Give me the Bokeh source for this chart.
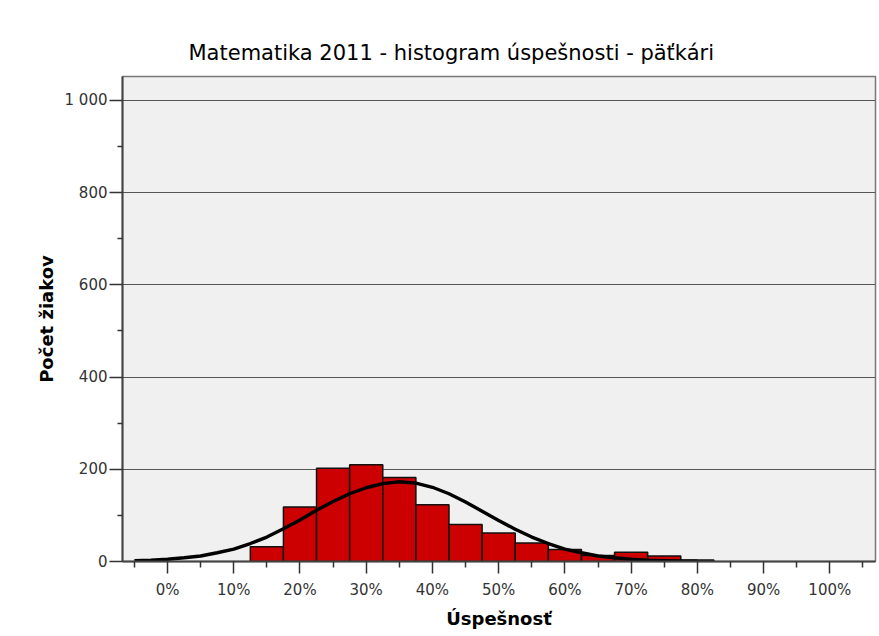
from bokeh.plotting import figure
from bokeh.models import FixedTicker, ColumnDataSource
from bokeh.embed import file_html
from bokeh.resources import INLINE

# ---- data ----
bin_centers = [15, 20, 25, 30, 35, 40, 45, 50, 55, 60, 65, 70, 75, 80]   # % success
bin_counts = [32, 118, 202, 210, 182, 123, 80, 62, 40, 26, 13, 20, 12, 3]
bin_width = 5

curve_x = [-5, -2.5, 0, 2.5, 5, 7.5, 10, 12.5, 15, 17.5, 20, 22.5, 25, 27.5, 30, 32.5,
           35, 37.5, 40, 42.5, 45, 47.5, 50, 52.5, 55, 57.5, 60, 62.5, 65, 67.5, 70,
           72.5, 75, 77.5, 80]
curve_y = [2, 3, 5, 8, 12, 19, 27, 39, 53, 71, 90, 111, 130, 147, 160, 169,
           173, 170, 161, 147, 129, 109, 89, 70, 53, 39, 27, 19, 12, 8, 5,
           3, 2, 1, 0.5]

x_ticks = [0, 10, 20, 30, 40, 50, 60, 70, 80, 90, 100]
x_tick_labels = ["0%", "10%", "20%", "30%", "40%", "50%", "60%", "70%", "80%", "90%", "100%"]
x_minor = [-5, 5, 15, 25, 35, 45, 55, 65, 75, 85, 95, 105]
y_ticks = [0, 200, 400, 600, 800, 1000]
y_tick_labels = ["0", "200", "400", "600", "800", "1 000"]
y_minor = [100, 300, 500, 700, 900]

title_text = "Matematika 2011 - histogram úspešnosti - päťkári"
x_title = "Úspešnosť"
y_title = "Počet žiakov"

W, H = 879, 636
p = figure(width=W, height=H, output_backend="svg", toolbar_location=None,
           title=title_text,
           x_range=(-6.8, 106.9), y_range=(0, 1052),
           min_border_left=122, min_border_right=4, min_border_top=76, min_border_bottom=75)

p.title.align = "left"
p.title.offset = 66
p.title.text_font = "DejaVu Sans"
p.title.text_font_size = "21px"
p.title.text_font_style = "normal"
p.title.text_color = "black"
p.title.standoff = 24

p.background_fill_color = "#f0f0f0"
p.border_fill_color = "white"
p.outline_line_color = "#777777"
p.outline_line_width = 1.5

src = ColumnDataSource(dict(x=bin_centers, top=bin_counts))
p.vbar(x="x", top="top", bottom=0, width=bin_width, source=src,
       fill_color="#cc0000", line_color="#111111", line_width=1.5)
p.line(curve_x, curve_y, line_color="black", line_width=3.4)

# axes
p.xaxis.ticker = FixedTicker(ticks=x_ticks, minor_ticks=x_minor)
p.xaxis.major_label_overrides = {t: l for t, l in zip(x_ticks, x_tick_labels)}
p.yaxis.ticker = FixedTicker(ticks=y_ticks, minor_ticks=y_minor)
p.yaxis.major_label_overrides = {t: l for t, l in zip(y_ticks, y_tick_labels)}

for ax in (p.xaxis[0], p.yaxis[0]):
    ax.axis_line_color = "#444444"
    ax.axis_line_width = 2
    ax.major_tick_line_color = "#333333"
    ax.major_tick_line_width = 1.5
    ax.minor_tick_line_color = "#333333"
    ax.minor_tick_line_width = 1.5
    ax.major_tick_in = 0
    ax.minor_tick_in = 0
    ax.major_label_text_font = "DejaVu Sans"
    ax.major_label_text_font_size = "15px"
    ax.major_label_text_color = "#333333"
    ax.axis_label_text_font = "DejaVu Sans"
    ax.axis_label_text_font_style = "bold"
    ax.axis_label_text_color = "black"

p.xaxis.axis_label = x_title
p.xaxis.axis_label_text_font_size = "18px"
p.xaxis.axis_label_standoff = 6
p.yaxis.axis_label = y_title
p.yaxis.axis_label_text_font_size = "18px"
p.yaxis.axis_label_standoff = 5

p.yaxis.major_tick_out = 13
p.yaxis.minor_tick_out = 5
p.yaxis.major_label_standoff = 2
p.xaxis.major_tick_out = 12
p.xaxis.minor_tick_out = 6
p.xaxis.major_label_standoff = 7

p.xgrid.grid_line_color = None
p.ygrid.grid_line_color = "#555555"
p.ygrid.grid_line_width = 1

open("out.html", "w").write(file_html(p, INLINE))
